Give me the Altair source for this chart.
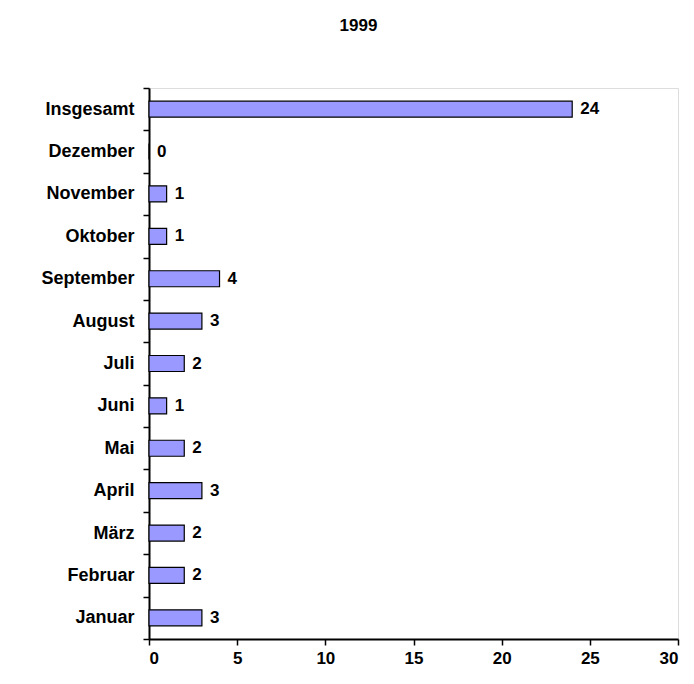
import altair as alt
import pandas as pd

# Monthly counts for 1999, listed top to bottom as drawn
categories = ["Insgesamt", "Dezember", "November", "Oktober", "September", "August",
              "Juli", "Juni", "Mai", "April", "März", "Februar", "Januar"]
counts = [24, 0, 1, 1, 4, 3, 2, 1, 2, 3, 2, 2, 3]
x_ticks = [0, 5, 10, 15, 20, 25, 30]

df = pd.DataFrame({"monat": categories, "anzahl": counts})

FONT = "Liberation Sans"

y_enc = alt.Y(
    "monat:N",
    sort=categories,
    scale=alt.Scale(paddingInner=0, paddingOuter=0),
    axis=alt.Axis(
        title=None,
        labelFont=FONT,
        labelFontSize=18,
        labelFontWeight="bold",
        labelColor="black",
        labelPadding=9,
        tickBand="extent",
        tickSize=6,
        tickColor="black",
        tickWidth=1.5,
        domainColor="black",
        domainWidth=2,
        grid=False,
    ),
)

x_enc = alt.X(
    "anzahl:Q",
    scale=alt.Scale(domain=[0, 30], nice=False),
    axis=alt.Axis(
        title=None,
        values=x_ticks,
        labelFont=FONT,
        labelFontSize=17,
        labelFontWeight="bold",
        labelColor="black",
        labelPadding=5,
        tickSize=6,
        tickColor="black",
        tickWidth=1.5,
        domainColor="black",
        domainWidth=2,
        grid=False,
    ),
)

bars = alt.Chart(df).mark_bar(
    color="#9999FF", stroke="black", strokeWidth=1.2, size=16
).encode(x=x_enc, y=y_enc)

labels = alt.Chart(df).mark_text(
    align="left", baseline="middle", dx=8,
    font=FONT, fontSize=17, fontWeight="bold", color="black"
).encode(x="anzahl:Q", y=alt.Y("monat:N", sort=categories), text="anzahl:Q")

chart = (
    alt.layer(bars, labels)
    .properties(
        width=529,
        height=551,
        title=alt.TitleParams(
            "1999", font=FONT, fontSize=17, fontWeight="bold", color="black",
            anchor="middle", dx=-55, offset=44,
        ),
        autosize=alt.AutoSizeParams(type="none"),
        padding={"left": 149, "top": 88, "right": 16, "bottom": 45},
    )
    .configure_view(stroke=None)
    .configure(background="white")
)

chart.save("out.html", embed_options={"renderer": "svg", "actions": False})
